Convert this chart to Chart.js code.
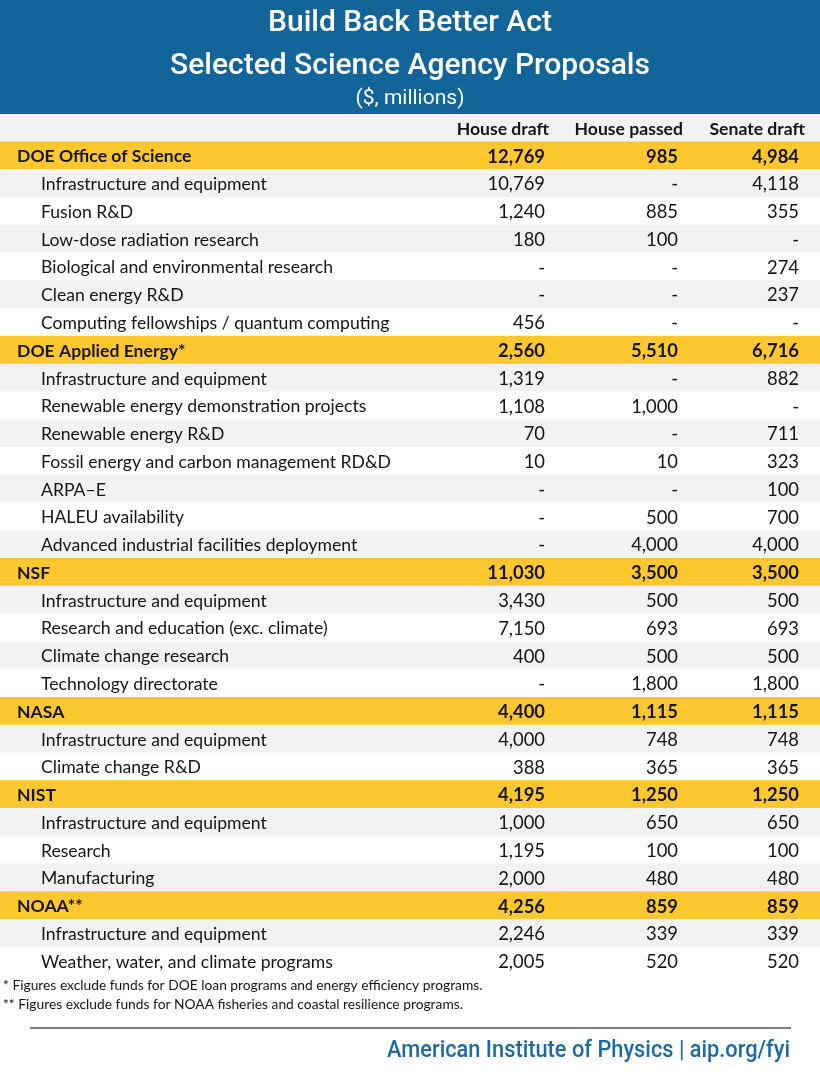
<!DOCTYPE html>
<html><head><meta charset="utf-8">
<script src="https://cdn.jsdelivr.net/npm/chart.js@4.4.1/dist/chart.umd.min.js"></script>
<style>html,body{margin:0;padding:0;background:#fff;}#wrap{position:relative;width:820px;height:1074px;}</style>
</head><body><div id="wrap"><canvas id="c"></canvas></div>
<script>
const titleLines = ['Build Back Better Act', 'Selected Science Agency Proposals'];
const subtitle = '($, millions)';
const columns = ['House draft', 'House passed', 'Senate draft'];
const rowLabels = [
  'DOE Office of Science', 'Infrastructure and equipment', 'Fusion R&D', 'Low-dose radiation research',
  'Biological and environmental research', 'Clean energy R&D', 'Computing fellowships / quantum computing',
  'DOE Applied Energy*', 'Infrastructure and equipment', 'Renewable energy demonstration projects',
  'Renewable energy R&D', 'Fossil energy and carbon management RD&D', 'ARPA–E', 'HALEU availability',
  'Advanced industrial facilities deployment',
  'NSF', 'Infrastructure and equipment', 'Research and education (exc. climate)', 'Climate change research',
  'Technology directorate',
  'NASA', 'Infrastructure and equipment', 'Climate change R&D',
  'NIST', 'Infrastructure and equipment', 'Research', 'Manufacturing',
  'NOAA**', 'Infrastructure and equipment', 'Weather, water, and climate programs'
];
const isAgency = [
  true, false, false, false, false, false, false,
  true, false, false, false, false, false, false, false,
  true, false, false, false, false,
  true, false, false,
  true, false, false, false,
  true, false, false
];
const houseDraft = [12769, 10769, 1240, 180, null, null, 456,
  2560, 1319, 1108, 70, 10, null, null, null,
  11030, 3430, 7150, 400, null,
  4400, 4000, 388,
  4195, 1000, 1195, 2000,
  4256, 2246, 2005];
const housePassed = [985, null, 885, 100, null, null, null,
  5510, null, 1000, null, 10, null, 500, 4000,
  3500, 500, 693, 500, 1800,
  1115, 748, 365,
  1250, 650, 100, 480,
  859, 339, 520];
const senateDraft = [4984, 4118, 355, null, 274, 237, null,
  6716, 882, null, 711, 323, 100, 700, 4000,
  3500, 500, 693, 500, 1800,
  1115, 748, 365,
  1250, 650, 100, 480,
  859, 339, 520];
const footnotes = ['* Figures exclude funds for DOE loan programs and energy efficiency programs.',
  '** Figures exclude funds for NOAA fisheries and coastal resilience programs.'];
const credit = 'American Institute of Physics | aip.org/fyi';

const BLUE = '#136599', YELLOW = '#fdc82f', GRAY = '#f2f2f2', WHITE = '#ffffff';
const BODY = 'Lato, "Noto Sans", sans-serif';
const COND = '"Liberation Sans Narrow", Roboto, "Liberation Sans", sans-serif';

const cats = [''].concat(rowLabels);
const fills = [GRAY];
let k = 0;
rowLabels.forEach((l, i) => {
  if (isAgency[i]) { fills.push(YELLOW); k = 0; }
  else { fills.push(k % 2 === 0 ? GRAY : WHITE); k++; }
});
const fmt = v => v == null ? '-' : v.toLocaleString('en-US');
const colRight = [545, 678, 799];
const headRight = [549, 683, 805];

const tablePlugin = {
  id: 'table',
  beforeDraw(chart) {
    const c = chart.ctx;
    c.save();
    c.fillStyle = '#fff'; c.fillRect(0, 0, chart.width, chart.height);
    c.fillStyle = BLUE; c.fillRect(0, 0, chart.width, 114);
    c.fillStyle = '#fff'; c.textAlign = 'center'; c.textBaseline = 'alphabetic';
    c.font = '500 30px ' + COND;
    c.fillText(titleLines[0], 410, 31, 289);
    c.fillText(titleLines[1], 410, 74, 483);
    c.font = '21px ' + COND;
    c.fillText(subtitle, 410, 104, 110);
    c.restore();
  },
  afterDatasetsDraw(chart) {
    const c = chart.ctx, y = chart.scales.y;
    c.save();
    c.fillStyle = '#151515'; c.textBaseline = 'middle';
    const hy = y.getPixelForValue(0) + 1;
    c.font = 'bold 17.6px ' + BODY; c.textAlign = 'right';
    columns.forEach((t, j) => c.fillText(t, headRight[j], hy));
    const cols = [houseDraft, housePassed, senateDraft];
    rowLabels.forEach((lab, i) => {
      const py = y.getPixelForValue(i + 1) + 1;
      c.font = (isAgency[i] ? 'bold ' : '') + '17.6px ' + BODY;
      c.textAlign = 'left';
      c.fillText(lab, isAgency[i] ? 17 : 41, py);
      c.textAlign = 'right';
      c.font = (isAgency[i] ? 'bold ' : '') + '18.4px ' + BODY;
      cols.forEach((arr, j) => c.fillText(fmt(arr[i]), colRight[j], py));
    });
    c.restore();
  },
  afterDraw(chart) {
    const c = chart.ctx;
    c.save();
    c.fillStyle = '#151515'; c.textBaseline = 'middle'; c.textAlign = 'left';
    c.font = '13.8px ' + BODY;
    c.fillText(footnotes[0], 3, 986);
    c.fillText(footnotes[1], 3, 1005);
    c.strokeStyle = '#555'; c.lineWidth = 1.5;
    c.beginPath(); c.moveTo(30, 1028); c.lineTo(791, 1028); c.stroke();
    c.fillStyle = '#1b6aa3'; c.textAlign = 'right'; c.textBaseline = 'alphabetic';
    c.font = '500 23px ' + COND;
    c.fillText(credit, 790, 1057, 403);
    c.restore();
  }
};

new Chart(document.getElementById('c'), {
  type: 'bar',
  data: {
    labels: cats,
    datasets: [{
      data: cats.map(() => [0, 1]),
      backgroundColor: fills,
      borderWidth: 0,
      barPercentage: 1,
      categoryPercentage: 1
    }]
  },
  options: {
    indexAxis: 'y',
    responsive: true,
    maintainAspectRatio: false,
    animation: false,
    layout: { padding: { top: 114, bottom: 99, left: 0, right: 0 } },
    plugins: { legend: { display: false }, tooltip: { enabled: false } },
    scales: {
      x: { type: 'linear', min: 0, max: 1, display: false },
      y: { type: 'category', display: false, offset: true, grid: { display: false } }
    }
  },
  plugins: [tablePlugin]
});
</script></body></html>
